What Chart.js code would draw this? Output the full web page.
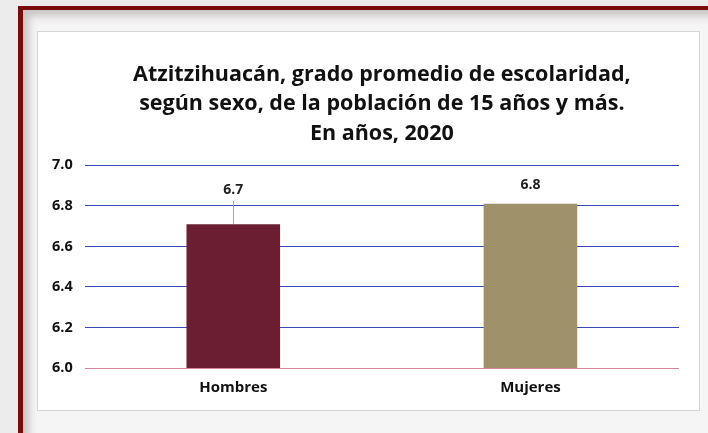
<!DOCTYPE html>
<html lang="es">
<head>
    <meta charset="UTF-8">
    <title>Atzitzihuacán, grado promedio de escolaridad</title>
    <script src="https://cdn.jsdelivr.net/npm/chart.js"></script>
    <style>
        html, body { margin: 0; padding: 0; }
        body {
            width: 708px; height: 433px; overflow: hidden; position: relative;
            background: #ececec;
        }
        #marco {
            position: absolute; left: 18px; top: 6px; right: -10px; bottom: -10px;
            border-top: 4px solid #7a0b0b; border-left: 5px solid #7a0b0b;
            background: #f6f5f5;
            box-shadow: inset 6px 6px 8px #c9c4c4;
        }
        #caja {
            position: absolute; left: 37px; top: 31px; width: 661px; height: 378px;
            background: #fff; border: 1px solid #d6d6d6;
        }
        canvas { display: block; }
    </style>
</head>
<body>
    <div id="marco"></div>
    <div id="caja"><canvas id="grafica" width="661" height="378"></canvas></div>

    <script>
        const categorias = ['Hombres', 'Mujeres'];
        const valores = [6.71, 6.81];
        const etiquetas = ['6.7', '6.8'];
        const colores = ['#6b1d32', '#9f9169'];
        const titulo = [
            'Atzitzihuacán, grado promedio de escolaridad,',
            'según sexo, de la población de 15 años y más.',
            'En años, 2020'
        ];

        // Etiquetas de datos encima de las barras (la de Hombres con línea guía)
        const etiquetasBarras = {
            id: 'etiquetasBarras',
            afterDatasetsDraw(chart) {
                const ctx = chart.ctx;
                const meta = chart.getDatasetMeta(0);
                const desplazamientos = [34, 19];
                ctx.save();
                ctx.font = 'bold 14px "Open Sans"';
                ctx.fillStyle = '#222';
                ctx.textAlign = 'center';
                ctx.textBaseline = 'middle';
                meta.data.forEach((barra, i) => {
                    const y = barra.y - desplazamientos[i];
                    ctx.fillText(etiquetas[i], barra.x, y);
                    if (desplazamientos[i] > 25) {
                        ctx.strokeStyle = '#a6a6a6';
                        ctx.lineWidth = 1;
                        ctx.beginPath();
                        ctx.moveTo(Math.round(barra.x) + 0.5, y + 11);
                        ctx.lineTo(Math.round(barra.x) + 0.5, barra.y);
                        ctx.stroke();
                    }
                });
                ctx.restore();
            }
        };

        const ctx = document.getElementById('grafica').getContext('2d');
        new Chart(ctx, {
            type: 'bar',
            data: {
                labels: categorias,
                datasets: [{
                    data: valores,
                    backgroundColor: colores,
                    barPercentage: 0.63,
                    categoryPercentage: 0.5
                }]
            },
            options: {
                responsive: false,
                animation: false,
                layout: { padding: { left: 2, right: 20, top: 0, bottom: 10 } },
                plugins: {
                    legend: { display: false },
                    tooltip: { enabled: false },
                    title: {
                        display: true,
                        text: titulo,
                        fullSize: false,
                        color: '#111',
                        font: { family: 'Open Sans', size: 21.5, weight: 'bold', lineHeight: 1.37 },
                        padding: { top: 28, bottom: 17 }
                    }
                },
                scales: {
                    x: {
                        grid: { display: false },
                        border: { display: false },
                        ticks: {
                            color: '#111',
                            padding: 3,
                            font: { family: 'Open Sans', size: 15, weight: 'bold' }
                        }
                    },
                    y: {
                        min: 6.0,
                        max: 7.0,
                        border: { display: false },
                        grid: {
                            drawTicks: false,
                            color: ['#d4879a', '#3848b8', '#3848b8', '#3848b8', '#3848b8', '#3848b8'],
                            lineWidth: 1
                        },
                        ticks: {
                            stepSize: 0.2,
                            padding: 12,
                            color: '#111',
                            font: { family: 'Open Sans', size: 14.5, weight: 'bold' },
                            callback: v => v.toFixed(1)
                        }
                    }
                }
            },
            plugins: [etiquetasBarras]
        });
    </script>
</body>
</html>
